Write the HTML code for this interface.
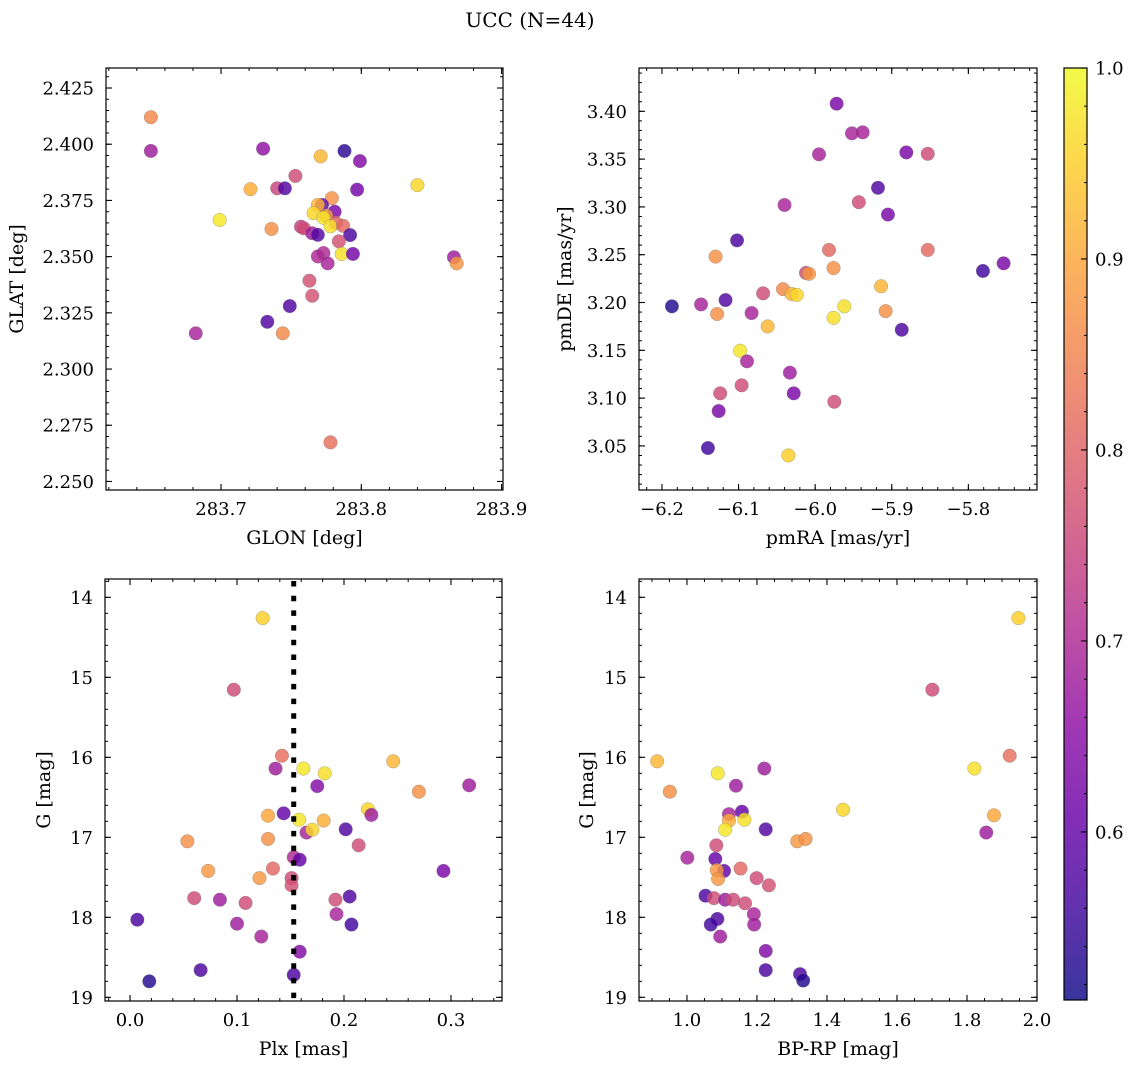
<!DOCTYPE html>
<html><head><meta charset="utf-8">
<style>
html,body{margin:0;padding:0;background:#fff;}
svg{display:block;font-family:"DejaVu Serif","Liberation Serif",serif;}
</style></head>
<body>
<svg id="fig" width="1136" height="1068" viewBox="0 0 1136 1068" xmlns="http://www.w3.org/2000/svg">
<text x="530" y="27" font-size="20" text-anchor="middle">UCC (N=44)</text>
</svg>
<script>
// ---- Panel 1 data: GLON vs GLAT ----
const p1Glon = [283.650,283.650,283.730,283.771,283.788,283.799,283.753,283.721,283.740,283.7455,283.797,283.840,283.779,283.699,283.736,283.772,283.769,283.781,283.775,283.766,283.782,283.773,283.778,283.787,283.757,283.759,283.765,283.769,283.792,283.784,283.773,283.769,283.786,283.794,283.776,283.866,283.868,283.763,283.765,283.749,283.733,283.744,283.682,283.778];
const p1Glat = [2.412,2.397,2.398,2.3946,2.397,2.3925,2.3859,2.380,2.3804,2.3804,2.3798,2.3818,2.376,2.3663,2.3623,2.373,2.373,2.370,2.3682,2.3693,2.365,2.3673,2.3635,2.3637,2.3633,2.3626,2.3604,2.3597,2.3596,2.3568,2.3516,2.3501,2.3512,2.3512,2.347,2.3497,2.347,2.3393,2.3326,2.328,2.321,2.3159,2.3159,2.2674];
const p1Prob = [0.86,0.68,0.66,0.92,0.54,0.64,0.76,0.91,0.75,0.58,0.62,0.96,0.87,0.98,0.87,0.60,0.92,0.63,0.88,0.96,0.81,0.97,0.97,0.81,0.74,0.76,0.68,0.58,0.57,0.77,0.70,0.70,0.97,0.62,0.69,0.68,0.88,0.77,0.77,0.58,0.58,0.86,0.69,0.82];
// ---- Panel 2 data: pmRA vs pmDE ----
const p2Pmra = [-5.972,-5.952,-5.938,-5.995,-5.881,-5.853,-5.918,-5.943,-6.040,-5.905,-6.102,-6.130,-5.982,-5.853,-5.976,-6.012,-6.008,-5.781,-5.754,-6.042,-6.068,-6.031,-6.024,-5.914,-6.187,-6.149,-6.117,-6.128,-6.083,-5.962,-5.976,-5.908,-6.062,-5.887,-6.098,-6.089,-6.033,-6.096,-6.124,-6.028,-5.975,-6.126,-6.140,-6.035];
const p2Pmde = [3.408,3.377,3.378,3.355,3.357,3.3556,3.320,3.305,3.302,3.292,3.265,3.248,3.255,3.255,3.236,3.231,3.230,3.233,3.241,3.214,3.2096,3.209,3.208,3.217,3.196,3.198,3.2026,3.188,3.189,3.196,3.184,3.191,3.175,3.1715,3.1496,3.1385,3.1266,3.1134,3.105,3.105,3.0962,3.0865,3.0478,3.040];
const p2Prob = [0.63,0.69,0.69,0.69,0.63,0.76,0.58,0.76,0.69,0.63,0.57,0.87,0.81,0.81,0.87,0.76,0.88,0.56,0.63,0.86,0.76,0.92,0.96,0.92,0.53,0.69,0.58,0.87,0.69,0.97,0.97,0.87,0.92,0.57,0.98,0.69,0.68,0.76,0.76,0.63,0.76,0.63,0.56,0.95];
// ---- Panel 3 data: Plx vs G ----
const p3Plx = [0.124,0.097,0.142,0.136,0.162,0.182,0.246,0.175,0.270,0.317,0.129,0.1436,0.158,0.181,0.2224,0.2256,0.165,0.1704,0.2016,0.0536,0.129,0.2137,0.153,0.1586,0.073,0.1336,0.293,0.121,0.151,0.151,0.060,0.084,0.108,0.192,0.2053,0.193,0.0068,0.100,0.207,0.1227,0.1586,0.066,0.153,0.018];
const p3G = [14.26,15.155,15.98,16.14,16.14,16.20,16.05,16.36,16.43,16.35,16.73,16.70,16.78,16.79,16.65,16.72,16.94,16.905,16.90,17.05,17.02,17.10,17.25,17.28,17.42,17.39,17.42,17.51,17.51,17.60,17.76,17.78,17.82,17.78,17.74,17.96,18.03,18.08,18.09,18.24,18.43,18.66,18.72,18.80];
const p3Prob = [0.95,0.76,0.82,0.68,0.98,0.97,0.92,0.64,0.87,0.68,0.90,0.60,0.98,0.91,0.96,0.68,0.69,0.96,0.58,0.87,0.87,0.76,0.70,0.60,0.88,0.81,0.63,0.88,0.76,0.77,0.76,0.68,0.76,0.76,0.58,0.69,0.57,0.68,0.56,0.69,0.64,0.57,0.57,0.53];
const plxLine = [0.153];
// ---- Panel 4 data: BP-RP vs G ----
const p4Bprp = [1.947,1.701,0.915,1.922,1.088,1.221,1.821,0.951,1.140,1.446,1.120,1.157,1.120,1.164,1.109,1.225,1.877,1.855,1.315,1.339,1.084,1.001,1.081,1.106,1.085,1.153,1.089,1.199,1.234,1.053,1.077,1.109,1.132,1.166,1.191,1.192,1.087,1.068,1.095,1.225,1.225,1.323,1.332];
const p4G = [14.26,15.155,16.05,15.98,16.20,16.14,16.14,16.43,16.355,16.655,16.71,16.68,16.79,16.78,16.905,16.90,16.725,16.94,17.05,17.02,17.10,17.255,17.27,17.42,17.41,17.39,17.52,17.51,17.60,17.73,17.76,17.78,17.78,17.825,17.96,18.09,18.02,18.09,18.24,18.42,18.66,18.71,18.79];
const p4Prob = [0.95,0.76,0.92,0.82,0.98,0.68,0.97,0.87,0.68,0.96,0.69,0.60,0.91,0.97,0.98,0.58,0.90,0.68,0.88,0.87,0.76,0.69,0.60,0.60,0.88,0.81,0.88,0.76,0.77,0.57,0.76,0.68,0.76,0.76,0.69,0.68,0.57,0.56,0.68,0.64,0.57,0.57,0.53];
// ---- Colorbar ----
const cbarTicks = [0.6,0.7,0.8,0.9,1.0];
const cbarMin = 0.512, cbarMax = 1.0;

const NS = "http://www.w3.org/2000/svg";
const svg = document.getElementById('fig');
const TICK_FS = 18, TITLE_FS = 19;
const plasma = ["#0d0887","#41049d","#6a00a8","#8f0da4","#b12a90","#cc4778","#e16462","#f2844b","#fca636","#fcce25","#f0f921"];
function hex(h){return [parseInt(h.substr(1,2),16),parseInt(h.substr(3,2),16),parseInt(h.substr(5,2),16)];}
function cmap(t){
  t=Math.max(0,Math.min(1,t));const s=t*10;const i=Math.min(9,Math.floor(s));const f=s-i;
  const a=hex(plasma[i]),b=hex(plasma[i+1]);
  return "rgb("+a.map((v,k)=>Math.round(v+(b[k]-v)*f)).join(",")+")";
}
function mk(tag,attrs,parent){const e=document.createElementNS(NS,tag);for(const k in attrs)e.setAttribute(k,attrs[k]);(parent||svg).appendChild(e);return e;}
function fmtMinus(s){return s.replace("-","\u2212");}

function panel(cfg){
  const g=mk('g',{});
  
  
  const sx=v=>cfg.x0+(v-cfg.xmin)/(cfg.xmax-cfg.xmin)*(cfg.x1-cfg.x0);
  const sy=cfg.invert? (v=>cfg.y0+(v-cfg.ymin)/(cfg.ymax-cfg.ymin)*(cfg.y1-cfg.y0))
                     : (v=>cfg.y1-(v-cfg.ymin)/(cfg.ymax-cfg.ymin)*(cfg.y1-cfg.y0));
  for(let i=0;i<cfg.xs.length;i++){
    const c=mk('circle',{cx:sx(cfg.xs[i]),cy:sy(cfg.ys[i]),r:6.8,fill:cmap((cfg.cs[i]-cbarMin)/(cbarMax-cbarMin)),'fill-opacity':0.82,stroke:'#777','stroke-opacity':0.6,'stroke-width':0.5},g);
    
    
  }
  if(cfg.vline){
    const l=mk('line',{x1:sx(cfg.vline[0]),x2:sx(cfg.vline[0]),y1:cfg.y0+2,y2:cfg.y1,stroke:'#000','stroke-width':5,'stroke-dasharray':'5.5 9.2'},g);
    
    
  }
  const fr=mk('rect',{x:cfg.x0,y:cfg.y0,width:cfg.x1-cfg.x0,height:cfg.y1-cfg.y0,fill:'none',stroke:'#000','stroke-width':1.2},g);
  
  
  const eps=1e-9;
  for(let v=Math.ceil(cfg.xmin/cfg.xminor-eps)*cfg.xminor; v<=cfg.xmax+eps; v+=cfg.xminor){
    const x=sx(v);
    mk('line',{x1:x,x2:x,y1:cfg.y1,y2:cfg.y1-3,stroke:'#000','stroke-width':1},g);
    mk('line',{x1:x,x2:x,y1:cfg.y0,y2:cfg.y0+3,stroke:'#000','stroke-width':1},g);
  }
  cfg.xticks.forEach((v,i)=>{
    const x=sx(v);
    mk('line',{x1:x,x2:x,y1:cfg.y1,y2:cfg.y1-6,stroke:'#000','stroke-width':1.1},g);
    mk('line',{x1:x,x2:x,y1:cfg.y0,y2:cfg.y0+6,stroke:'#000','stroke-width':1.1},g);
    const t=mk('text',{x:x,y:cfg.y1+25,'font-size':TICK_FS,'text-anchor':'middle'},g);
    t.textContent=fmtMinus(cfg.xlabels[i]);
    
    
  });
  for(let v=Math.ceil(cfg.ymin/cfg.yminor-eps)*cfg.yminor; v<=cfg.ymax+eps; v+=cfg.yminor){
    const y=sy(v);
    mk('line',{x1:cfg.x0,x2:cfg.x0+3,y1:y,y2:y,stroke:'#000','stroke-width':1},g);
    mk('line',{x1:cfg.x1,x2:cfg.x1-3,y1:y,y2:y,stroke:'#000','stroke-width':1},g);
  }
  cfg.yticks.forEach((v,i)=>{
    const y=sy(v);
    mk('line',{x1:cfg.x0,x2:cfg.x0+6,y1:y,y2:y,stroke:'#000','stroke-width':1.1},g);
    mk('line',{x1:cfg.x1,x2:cfg.x1-6,y1:y,y2:y,stroke:'#000','stroke-width':1.1},g);
    const t=mk('text',{x:cfg.x0-12,y:y+6.5,'font-size':TICK_FS,'text-anchor':'end'},g);
    t.textContent=cfg.ylabels[i];
    
    
  });
  const xt=mk('text',{x:(cfg.x0+cfg.x1)/2,y:cfg.y1+54,'font-size':TITLE_FS,'text-anchor':'middle'},g);
  xt.textContent=cfg.xtitle;
  
  
  const yt=mk('text',{x:0,y:0,'font-size':TITLE_FS,'text-anchor':'middle',transform:`translate(${cfg.ytx},${(cfg.y0+cfg.y1)/2}) rotate(-90)`},g);
  yt.textContent=cfg.ytitle;
  
  
}
function range(a,b,s){const r=[];for(let v=a;v<=b+1e-9;v+=s)r.push(+v.toFixed(6));return r;}

const glatT=range(2.25,2.425,0.025);
panel({name:'glon-glat-panel',x0:106,x1:503,y0:68,y1:490,xmin:283.618,xmax:283.901,ymin:2.2462,ymax:2.4339,
  xs:p1Glon,ys:p1Glat,cs:p1Prob,xticks:[283.7,283.8,283.9],xlabels:['283.7','283.8','283.9'],xminor:0.02,
  yticks:glatT,ylabels:glatT.map(v=>v.toFixed(3)),yminor:0.005,xtitle:'GLON [deg]',ytitle:'GLAT [deg]',ytx:23});
const pmraT=[-6.2,-6.1,-6.0,-5.9,-5.8], pmdeT=range(3.05,3.40,0.05);
panel({name:'pmra-pmde-panel',x0:639,x1:1037,y0:68,y1:490,xmin:-6.230,xmax:-5.7104,ymin:3.0039,ymax:3.4453,
  xs:p2Pmra,ys:p2Pmde,cs:p2Prob,xticks:pmraT,xlabels:pmraT.map(v=>v.toFixed(1)),xminor:0.02,
  yticks:pmdeT,ylabels:pmdeT.map(v=>v.toFixed(2)),yminor:0.01,xtitle:'pmRA [mas/yr]',ytitle:'pmDE [mas/yr]',ytx:571});
const gT=[14,15,16,17,18,19];
panel({name:'plx-g-panel',x0:105,x1:502,y0:579,y1:1001,xmin:-0.0234,xmax:0.3477,ymin:13.771,ymax:19.046,invert:true,
  xs:p3Plx,ys:p3G,cs:p3Prob,vline:plxLine,xticks:[0,0.1,0.2,0.3],xlabels:['0.0','0.1','0.2','0.3'],xminor:0.02,
  yticks:gT,ylabels:gT.map(String),yminor:0.2,xtitle:'Plx [mas]',ytitle:'G [mag]',ytx:50});
const bpT=range(1.0,2.0,0.2);
panel({name:'bprp-g-panel',x0:639,x1:1037,y0:579,y1:1001,xmin:0.863,xmax:2.0,ymin:13.771,ymax:19.046,invert:true,
  xs:p4Bprp,ys:p4G,cs:p4Prob,xticks:bpT,xlabels:bpT.map(v=>v.toFixed(1)),xminor:0.05,
  yticks:gT,ylabels:gT.map(String),yminor:0.2,xtitle:'BP-RP [mag]',ytitle:'G [mag]',ytx:593});

(function(){
  const cx0=1064,cx1=1087,cy0=68,cy1=1000;
  const defs=mk('defs',{});
  const lg=mk('linearGradient',{id:'plasmaGrad',x1:0,y1:1,x2:0,y2:0},defs);
  plasma.forEach((c,i)=>mk('stop',{offset:(i/10),'stop-color':c},lg));
  const g=mk('g',{});
  
  
  mk('rect',{x:cx0,y:cy0,width:cx1-cx0,height:cy1-cy0,fill:'url(#plasmaGrad)','fill-opacity':0.82},g);
  mk('rect',{x:cx0,y:cy0,width:cx1-cx0,height:cy1-cy0,fill:'none',stroke:'#000','stroke-width':1.2},g);
  const sy=v=>cy1-(v-cbarMin)/(cbarMax-cbarMin)*(cy1-cy0);
  for(let v=0.52;v<=1.0001;v+=0.02){const y=sy(v);mk('line',{x1:cx1,x2:cx1-3,y1:y,y2:y,stroke:'#000','stroke-width':1},g);}
  cbarTicks.forEach(v=>{
    const y=sy(v);
    mk('line',{x1:cx1,x2:cx1-6,y1:y,y2:y,stroke:'#000','stroke-width':1.1},g);
    const t=mk('text',{x:cx1+8,y:y+6.5,'font-size':TICK_FS},g);
    t.textContent=v.toFixed(1);
    
    
  });
})();
</script>
</body></html>
